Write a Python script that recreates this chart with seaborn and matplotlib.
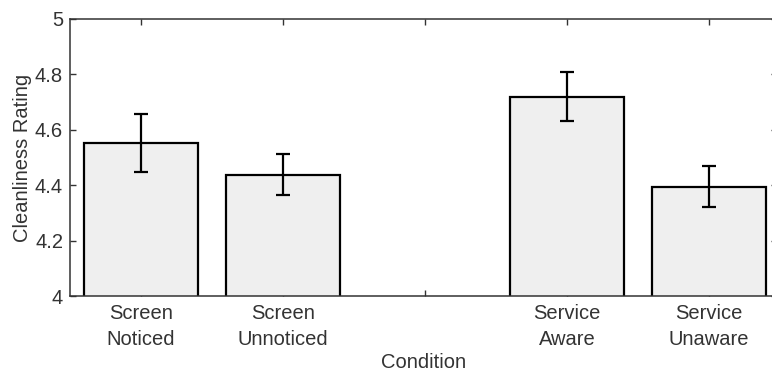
import matplotlib
matplotlib.use("Agg")
import matplotlib.pyplot as plt
import seaborn as sns
import numpy as np
import pandas as pd

categories = ["Screen\nNoticed", "Screen\nUnnoticed", " ", "Service\nAware", "Service\nUnaware"]
means = [4.551, 4.437, np.nan, 4.720, 4.395]
errors = [0.105, 0.074, np.nan, 0.087, 0.073]
yticks = [4, 4.2, 4.4, 4.6, 4.8, 5]
ytick_labels = ["4", "4.2", "4.4", "4.6", "4.8", "5"]

sns.set_theme(style="white")
plt.rcParams["font.family"] = ["Liberation Sans", "DejaVu Sans"]

text_color = "#333333"
fs = 14.5
fig = plt.figure(figsize=(7.72, 3.74), dpi=100)
ax = fig.add_axes([70 / 772, 1 - 296 / 374, (777 - 70) / 772, (296 - 19) / 374])

df = pd.DataFrame({"Condition": categories, "Rating": means})
sns.barplot(data=df, x="Condition", y="Rating", order=categories, color="#efefef",
            saturation=1, width=0.8, edgecolor="black", linewidth=1.6, errorbar=None, ax=ax)
ax.errorbar(np.arange(len(categories)), means, yerr=errors, fmt="none", ecolor="black",
            elinewidth=1.6, capsize=5, capthick=1.6, zorder=3)

ax.set_xlim(-0.5, 4.48)
ax.set_ylim(4, 5)
ax.set_yticks(yticks)
ax.set_yticklabels(ytick_labels)
ax.set_axisbelow(True)
ax.tick_params(axis="both", direction="in", length=4.3, width=1.0, color=text_color,
               top=True, right=True, bottom=True, left=True, labelsize=fs,
               labelcolor=text_color)
ax.tick_params(axis="x", pad=6)
ax.tick_params(axis="y", pad=5)
ax.set_xticks(np.arange(len(categories)))
ax.set_xticklabels(categories, linespacing=1.45, fontsize=fs, color=text_color)
for s in ax.spines.values():
    s.set_visible(True)
    s.set_color(text_color)
    s.set_linewidth(1.1)
ax.set_xlabel("Condition", fontsize=fs, color=text_color, labelpad=3)
ax.set_ylabel("Cleanliness Rating", fontsize=fs, color=text_color, labelpad=2)

fig.savefig("out.png", dpi=100)
